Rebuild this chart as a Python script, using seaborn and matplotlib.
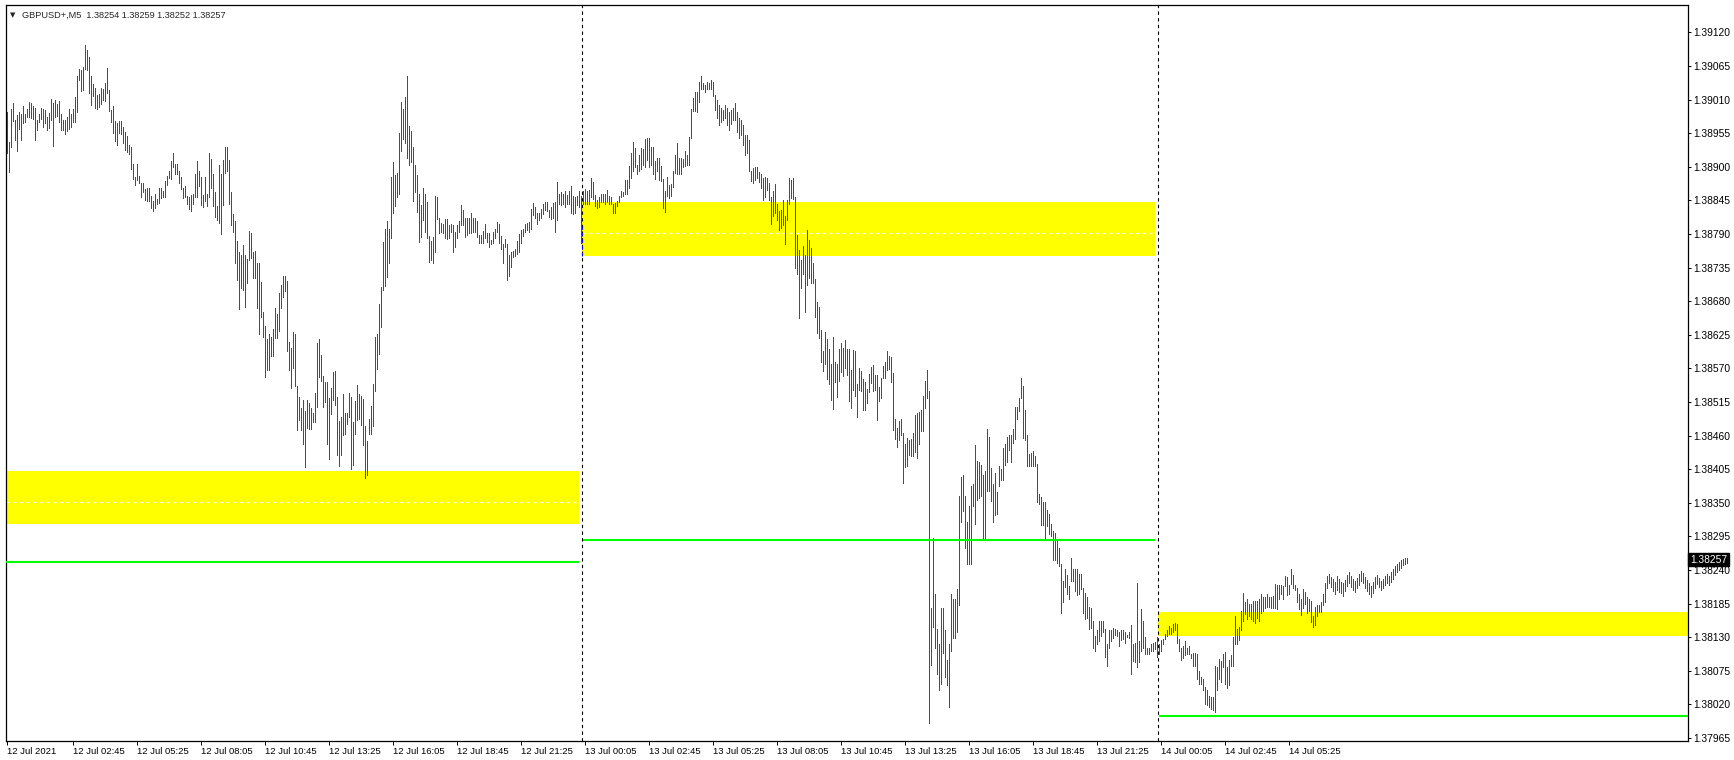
import numpy as np
import pandas as pd
import matplotlib
matplotlib.use("Agg")
import matplotlib.pyplot as plt
import matplotlib.transforms as mtransforms
import seaborn as sns

# header of the MT4 window
symbol = "GBPUSD+,M5"
last_ohlc = [1.38254, 1.38259, 1.38252, 1.38257]

# M5 bars, high / low per bar (12 Jul, 13 Jul, 14 Jul)
day1_high = [
    1.38990, 1.38941, 1.38995, 1.39004, 1.38977, 1.38985, 1.38990, 1.38986, 1.38999, 1.38987,
    1.38995, 1.39007, 1.39004, 1.38999, 1.38996, 1.38977, 1.38986, 1.38996, 1.38995, 1.38993,
    1.38981, 1.38988, 1.39011, 1.39005, 1.39009, 1.39003, 1.39008, 1.38986, 1.38977, 1.38977,
    1.38981, 1.38995, 1.38986, 1.38995, 1.39014, 1.39049, 1.39060, 1.39058, 1.39063, 1.39099,
    1.39091, 1.39080, 1.39048, 1.39036, 1.39029, 1.39017, 1.39019, 1.39029, 1.39027, 1.39038,
    1.39062, 1.39026, 1.38993, 1.38999, 1.38975, 1.38971, 1.38975, 1.38975, 1.38965, 1.38957,
    1.38950, 1.38936, 1.38932, 1.38904, 1.38884, 1.38904, 1.38885, 1.38873, 1.38873, 1.38864,
    1.38865, 1.38865, 1.38853, 1.38844, 1.38855, 1.38847, 1.38865, 1.38865, 1.38861, 1.38877,
    1.38885, 1.38894, 1.38910, 1.38923, 1.38904, 1.38904, 1.38894, 1.38884, 1.38865, 1.38869,
    1.38853, 1.38850, 1.38854, 1.38855, 1.38888, 1.38910, 1.38894, 1.38884, 1.38854, 1.38884,
    1.38855, 1.38923, 1.38913, 1.38888, 1.38859, 1.38836, 1.38903, 1.38888, 1.38912, 1.38932,
    1.38932, 1.38912, 1.38859, 1.38823, 1.38811, 1.38779, 1.38761, 1.38755, 1.38772, 1.38755,
    1.38749, 1.38795, 1.38792, 1.38761, 1.38762, 1.38742, 1.38742, 1.38712, 1.38663, 1.38640,
    1.38618, 1.38626, 1.38622, 1.38634, 1.38669, 1.38659, 1.38693, 1.38706, 1.38721, 1.38721,
    1.38713, 1.38614, 1.38604, 1.38630, 1.38626, 1.38541, 1.38523, 1.38505, 1.38519, 1.38501,
    1.38519, 1.38513, 1.38505, 1.38497, 1.38530, 1.38611, 1.38618, 1.38592, 1.38558, 1.38547,
    1.38548, 1.38522, 1.38538, 1.38564, 1.38566, 1.38523, 1.38484, 1.38491, 1.38528, 1.38497,
    1.38497, 1.38529, 1.38523, 1.38482, 1.38517, 1.38543, 1.38528, 1.38525, 1.38520, 1.38475,
    1.38451, 1.38487, 1.38508, 1.38545, 1.38622, 1.38627, 1.38676, 1.38704, 1.38777, 1.38798,
    1.38811, 1.38798, 1.38884, 1.38908, 1.38887, 1.38890, 1.38956, 1.39007, 1.38995, 1.39015,
    1.39048, 1.38967, 1.38959, 1.38933, 1.38903, 1.38887, 1.38856, 1.38838, 1.38866, 1.38855,
    1.38842, 1.38787, 1.38779, 1.38785, 1.38853, 1.38851, 1.38817, 1.38808, 1.38807, 1.38814,
    1.38814, 1.38805, 1.38806, 1.38805, 1.38794, 1.38805, 1.38811, 1.38837, 1.38829, 1.38817,
    1.38817, 1.38817, 1.38825, 1.38817, 1.38817, 1.38811, 1.38788, 1.38788, 1.38795, 1.38806,
    1.38791, 1.38792, 1.38781, 1.38794, 1.38798, 1.38809, 1.38807, 1.38787, 1.38773, 1.38782,
    1.38773, 1.38755, 1.38761, 1.38762, 1.38765, 1.38778, 1.38790, 1.38796, 1.38798, 1.38807,
    1.38808, 1.38809, 1.38831, 1.38841, 1.38834, 1.38825, 1.38824, 1.38831, 1.38839, 1.38842,
    1.38843, 1.38829, 1.38835, 1.38841, 1.38843, 1.38875, 1.38855, 1.38859, 1.38856, 1.38861,
    1.38854, 1.38860, 1.38869, 1.38853, 1.38851, 1.38853, 1.38860, 1.38852,
]
day1_low = [
    1.38922, 1.38892, 1.38932, 1.38975, 1.38944, 1.38926, 1.38962, 1.38944, 1.38972, 1.38974,
    1.38981, 1.38982, 1.38980, 1.38978, 1.38944, 1.38961, 1.38973, 1.38978, 1.38966, 1.38971,
    1.38960, 1.38963, 1.38977, 1.38934, 1.38981, 1.38984, 1.38974, 1.38960, 1.38960, 1.38954,
    1.38959, 1.38962, 1.38966, 1.38973, 1.38974, 1.38989, 1.39042, 1.39025, 1.39026, 1.39060,
    1.39058, 1.39021, 1.39001, 1.39016, 1.38997, 1.38995, 1.38998, 1.39003, 1.39009, 1.39008,
    1.39021, 1.38992, 1.38974, 1.38956, 1.38943, 1.38936, 1.38955, 1.38954, 1.38939, 1.38927,
    1.38924, 1.38921, 1.38896, 1.38880, 1.38870, 1.38878, 1.38873, 1.38851, 1.38859, 1.38845,
    1.38844, 1.38844, 1.38832, 1.38828, 1.38832, 1.38840, 1.38841, 1.38849, 1.38850, 1.38851,
    1.38870, 1.38881, 1.38880, 1.38899, 1.38888, 1.38889, 1.38873, 1.38864, 1.38849, 1.38850,
    1.38839, 1.38831, 1.38828, 1.38839, 1.38850, 1.38851, 1.38869, 1.38837, 1.38834, 1.38844,
    1.38836, 1.38850, 1.38865, 1.38836, 1.38818, 1.38813, 1.38808, 1.38790, 1.38837, 1.38890,
    1.38894, 1.38840, 1.38804, 1.38794, 1.38742, 1.38715, 1.38667, 1.38702, 1.38699, 1.38671,
    1.38710, 1.38747, 1.38750, 1.38718, 1.38718, 1.38669, 1.38626, 1.38654, 1.38621, 1.38556,
    1.38568, 1.38568, 1.38590, 1.38590, 1.38619, 1.38619, 1.38632, 1.38669, 1.38687, 1.38697,
    1.38599, 1.38567, 1.38538, 1.38571, 1.38541, 1.38469, 1.38486, 1.38469, 1.38447, 1.38408,
    1.38473, 1.38470, 1.38470, 1.38482, 1.38482, 1.38507, 1.38556, 1.38549, 1.38507, 1.38515,
    1.38447, 1.38422, 1.38496, 1.38518, 1.38510, 1.38428, 1.38410, 1.38428, 1.38461, 1.38462,
    1.38479, 1.38491, 1.38405, 1.38412, 1.38463, 1.38485, 1.38488, 1.38477, 1.38444, 1.38390,
    1.38395, 1.38462, 1.38463, 1.38475, 1.38533, 1.38569, 1.38594, 1.38638, 1.38699, 1.38705,
    1.38720, 1.38742, 1.38784, 1.38825, 1.38836, 1.38850, 1.38855, 1.38926, 1.38945, 1.38939,
    1.38914, 1.38903, 1.38908, 1.38844, 1.38859, 1.38826, 1.38777, 1.38785, 1.38813, 1.38794,
    1.38783, 1.38744, 1.38747, 1.38743, 1.38761, 1.38815, 1.38791, 1.38793, 1.38791, 1.38783,
    1.38782, 1.38784, 1.38794, 1.38761, 1.38768, 1.38783, 1.38794, 1.38805, 1.38805, 1.38785,
    1.38788, 1.38791, 1.38791, 1.38793, 1.38794, 1.38785, 1.38775, 1.38775, 1.38776, 1.38783,
    1.38777, 1.38769, 1.38773, 1.38775, 1.38784, 1.38794, 1.38775, 1.38765, 1.38743, 1.38768,
    1.38715, 1.38721, 1.38736, 1.38753, 1.38754, 1.38757, 1.38761, 1.38775, 1.38787, 1.38794,
    1.38796, 1.38794, 1.38798, 1.38821, 1.38817, 1.38807, 1.38813, 1.38817, 1.38823, 1.38830,
    1.38828, 1.38818, 1.38814, 1.38817, 1.38794, 1.38813, 1.38840, 1.38837, 1.38840, 1.38835,
    1.38839, 1.38839, 1.38825, 1.38823, 1.38824, 1.38838, 1.38834, 1.38776,
]
day2_high = [
    1.38860, 1.38864, 1.38860, 1.38862, 1.38881, 1.38876, 1.38854, 1.38846, 1.38851, 1.38855,
    1.38856, 1.38856, 1.38862, 1.38852, 1.38850, 1.38839, 1.38841, 1.38844, 1.38853, 1.38860,
    1.38859, 1.38879, 1.38878, 1.38901, 1.38922, 1.38940, 1.38931, 1.38903, 1.38920, 1.38931,
    1.38930, 1.38945, 1.38947, 1.38948, 1.38932, 1.38932, 1.38909, 1.38914, 1.38915, 1.38901,
    1.38880, 1.38860, 1.38884, 1.38871, 1.38872, 1.38893, 1.38920, 1.38939, 1.38914, 1.38914,
    1.38913, 1.38926, 1.38920, 1.38949, 1.38994, 1.39012, 1.39022, 1.39023, 1.39039, 1.39048,
    1.39038, 1.39034, 1.39039, 1.39038, 1.39043, 1.39039, 1.39017, 1.39009, 1.39001, 1.38996,
    1.38993, 1.39001, 1.38996, 1.38990, 1.38993, 1.38996, 1.39004, 1.38990, 1.38980, 1.38976,
    1.38968, 1.38952, 1.38952, 1.38944, 1.38893, 1.38898, 1.38899, 1.38899, 1.38892, 1.38889,
    1.38881, 1.38883, 1.38881, 1.38873, 1.38850, 1.38860, 1.38872, 1.38839, 1.38828, 1.38830,
    1.38845, 1.38820, 1.38845, 1.38882, 1.38878, 1.38882, 1.38850, 1.38788, 1.38764, 1.38748,
    1.38770, 1.38756, 1.38797, 1.38781, 1.38767, 1.38742, 1.38716, 1.38679, 1.38670, 1.38633,
    1.38598, 1.38630, 1.38618, 1.38601, 1.38577, 1.38621, 1.38581, 1.38577, 1.38601, 1.38611,
    1.38604, 1.38616, 1.38601, 1.38601, 1.38567, 1.38600, 1.38598, 1.38544, 1.38571, 1.38565,
    1.38552, 1.38547, 1.38536, 1.38561, 1.38572, 1.38576, 1.38559, 1.38559, 1.38539, 1.38555,
    1.38574, 1.38581, 1.38599, 1.38590, 1.38589, 1.38562, 1.38487, 1.38472, 1.38484, 1.38487,
    1.38465, 1.38447, 1.38456, 1.38453, 1.38455, 1.38465, 1.38494, 1.38497, 1.38498, 1.38502,
    1.38525, 1.38550, 1.38567, 1.38533, 1.38178, 1.38293, 1.38201, 1.38144, 1.38119, 1.38178,
    1.38178, 1.38142, 1.38093, 1.38119, 1.38201, 1.38193, 1.38193, 1.38209, 1.38361, 1.38393,
    1.38396, 1.38361, 1.38318, 1.38344, 1.38377, 1.38381, 1.38445, 1.38419, 1.38416, 1.38412,
    1.38395, 1.38402, 1.38470, 1.38458, 1.38407, 1.38380, 1.38399, 1.38367, 1.38411, 1.38406,
    1.38439, 1.38447, 1.38458, 1.38461, 1.38461, 1.38470, 1.38507, 1.38507, 1.38521, 1.38555,
    1.38542, 1.38502, 1.38461, 1.38430, 1.38432, 1.38435, 1.38427, 1.38413, 1.38364, 1.38360,
    1.38352, 1.38352, 1.38338, 1.38332, 1.38315, 1.38304, 1.38300, 1.38291, 1.38276, 1.38250,
    1.38222, 1.38242, 1.38232, 1.38213, 1.38260, 1.38242, 1.38242, 1.38242, 1.38233, 1.38233,
    1.38211, 1.38203, 1.38195, 1.38179, 1.38178, 1.38156, 1.38132, 1.38142, 1.38156, 1.38156,
    1.38156, 1.38144, 1.38119, 1.38141, 1.38141, 1.38145, 1.38144, 1.38142, 1.38139, 1.38141,
    1.38142, 1.38139, 1.38134, 1.38138, 1.38150, 1.38118, 1.38121, 1.38218, 1.38124, 1.38176,
    1.38156, 1.38131, 1.38112, 1.38112, 1.38119, 1.38121, 1.38122, 1.38131,
]
day2_low = [
    1.38840, 1.38840, 1.38839, 1.38839, 1.38851, 1.38847, 1.38836, 1.38833, 1.38834, 1.38842,
    1.38842, 1.38840, 1.38843, 1.38840, 1.38839, 1.38824, 1.38824, 1.38836, 1.38843, 1.38850,
    1.38852, 1.38856, 1.38856, 1.38866, 1.38881, 1.38893, 1.38899, 1.38888, 1.38893, 1.38896,
    1.38903, 1.38899, 1.38912, 1.38899, 1.38903, 1.38889, 1.38880, 1.38894, 1.38879, 1.38877,
    1.38832, 1.38826, 1.38853, 1.38849, 1.38853, 1.38867, 1.38890, 1.38889, 1.38889, 1.38888,
    1.38900, 1.38901, 1.38903, 1.38903, 1.38948, 1.38991, 1.38992, 1.38990, 1.39007, 1.39028,
    1.39028, 1.39022, 1.39027, 1.39027, 1.39027, 1.39016, 1.38993, 1.38980, 1.38968, 1.38973,
    1.38976, 1.38980, 1.38968, 1.38960, 1.38970, 1.38976, 1.38976, 1.38957, 1.38947, 1.38952,
    1.38935, 1.38919, 1.38922, 1.38893, 1.38877, 1.38873, 1.38878, 1.38881, 1.38875, 1.38865,
    1.38846, 1.38850, 1.38862, 1.38846, 1.38806, 1.38819, 1.38825, 1.38813, 1.38797, 1.38800,
    1.38804, 1.38773, 1.38813, 1.38839, 1.38849, 1.38847, 1.38734, 1.38724, 1.38653, 1.38702,
    1.38724, 1.38662, 1.38707, 1.38718, 1.38710, 1.38710, 1.38654, 1.38628, 1.38619, 1.38581,
    1.38566, 1.38577, 1.38553, 1.38544, 1.38518, 1.38504, 1.38547, 1.38524, 1.38550, 1.38564,
    1.38558, 1.38570, 1.38559, 1.38516, 1.38505, 1.38535, 1.38525, 1.38490, 1.38535, 1.38533,
    1.38502, 1.38502, 1.38514, 1.38532, 1.38546, 1.38533, 1.38535, 1.38486, 1.38517, 1.38521,
    1.38554, 1.38555, 1.38567, 1.38569, 1.38547, 1.38469, 1.38454, 1.38441, 1.38452, 1.38461,
    1.38382, 1.38409, 1.38410, 1.38429, 1.38427, 1.38427, 1.38433, 1.38424, 1.38447, 1.38467,
    1.38467, 1.38506, 1.38522, 1.37989, 1.38085, 1.38147, 1.38113, 1.38070, 1.38043, 1.38054,
    1.38104, 1.38064, 1.38052, 1.38015, 1.38107, 1.38129, 1.38129, 1.38139, 1.38182, 1.38319,
    1.38337, 1.38276, 1.38249, 1.38250, 1.38250, 1.38344, 1.38316, 1.38355, 1.38358, 1.38361,
    1.38292, 1.38289, 1.38370, 1.38370, 1.38353, 1.38318, 1.38330, 1.38331, 1.38378, 1.38387,
    1.38387, 1.38412, 1.38416, 1.38436, 1.38417, 1.38448, 1.38454, 1.38488, 1.38501, 1.38521,
    1.38456, 1.38453, 1.38411, 1.38411, 1.38411, 1.38411, 1.38410, 1.38352, 1.38348, 1.38313,
    1.38313, 1.38290, 1.38312, 1.38299, 1.38296, 1.38257, 1.38256, 1.38251, 1.38247, 1.38169,
    1.38187, 1.38212, 1.38200, 1.38192, 1.38222, 1.38222, 1.38206, 1.38199, 1.38200, 1.38209,
    1.38169, 1.38159, 1.38161, 1.38144, 1.38145, 1.38113, 1.38108, 1.38118, 1.38124, 1.38132,
    1.38139, 1.38097, 1.38082, 1.38112, 1.38124, 1.38128, 1.38133, 1.38132, 1.38115, 1.38125,
    1.38127, 1.38120, 1.38130, 1.38128, 1.38070, 1.38091, 1.38089, 1.38081, 1.38089, 1.38107,
    1.38113, 1.38102, 1.38102, 1.38102, 1.38107, 1.38107, 1.38110, 1.38097,
]
day3_high = [
    1.38119, 1.38125, 1.38127, 1.38136, 1.38142, 1.38149, 1.38145, 1.38152, 1.38153, 1.38152,
    1.38127, 1.38113, 1.38115, 1.38124, 1.38113, 1.38115, 1.38102, 1.38104, 1.38104, 1.38102,
    1.38075, 1.38065, 1.38062, 1.38049, 1.38044, 1.38033, 1.38032, 1.38032, 1.38083, 1.38081,
    1.38094, 1.38091, 1.38102, 1.38105, 1.38081, 1.38093, 1.38101, 1.38130, 1.38165, 1.38144,
    1.38147, 1.38173, 1.38203, 1.38188, 1.38192, 1.38185, 1.38185, 1.38190, 1.38190, 1.38190,
    1.38192, 1.38201, 1.38195, 1.38195, 1.38201, 1.38195, 1.38196, 1.38198, 1.38217, 1.38216,
    1.38216, 1.38216, 1.38214, 1.38230, 1.38229, 1.38216, 1.38241, 1.38232, 1.38215, 1.38211,
    1.38200, 1.38192, 1.38209, 1.38204, 1.38195, 1.38193, 1.38190, 1.38165, 1.38179, 1.38182,
    1.38182, 1.38188, 1.38201, 1.38218, 1.38230, 1.38233, 1.38228, 1.38225, 1.38220, 1.38230,
    1.38226, 1.38221, 1.38218, 1.38224, 1.38232, 1.38236, 1.38230, 1.38226, 1.38222, 1.38227,
    1.38233, 1.38238, 1.38235, 1.38229, 1.38224, 1.38218, 1.38214, 1.38220, 1.38228, 1.38232,
    1.38227, 1.38222, 1.38226, 1.38230, 1.38233, 1.38230, 1.38236, 1.38242, 1.38246, 1.38250,
    1.38253, 1.38256, 1.38258, 1.38259, 1.38259,
]
day3_low = [
    1.38102, 1.38107, 1.38118, 1.38127, 1.38132, 1.38136, 1.38136, 1.38139, 1.38142, 1.38121,
    1.38108, 1.38093, 1.38096, 1.38101, 1.38102, 1.38102, 1.38096, 1.38083, 1.38083, 1.38061,
    1.38054, 1.38053, 1.38044, 1.38021, 1.38019, 1.38016, 1.38013, 1.38010, 1.38008, 1.38044,
    1.38062, 1.38056, 1.38081, 1.38054, 1.38047, 1.38051, 1.38083, 1.38083, 1.38118, 1.38119,
    1.38125, 1.38141, 1.38156, 1.38168, 1.38159, 1.38164, 1.38160, 1.38156, 1.38153, 1.38161,
    1.38156, 1.38170, 1.38173, 1.38177, 1.38180, 1.38179, 1.38178, 1.38177, 1.38177, 1.38176,
    1.38192, 1.38201, 1.38192, 1.38213, 1.38199, 1.38200, 1.38217, 1.38210, 1.38208, 1.38188,
    1.38176, 1.38167, 1.38177, 1.38185, 1.38169, 1.38173, 1.38155, 1.38147, 1.38150, 1.38164,
    1.38171, 1.38171, 1.38182, 1.38187, 1.38210, 1.38218, 1.38212, 1.38205, 1.38200, 1.38207,
    1.38204, 1.38203, 1.38198, 1.38206, 1.38214, 1.38219, 1.38212, 1.38208, 1.38204, 1.38210,
    1.38216, 1.38222, 1.38218, 1.38211, 1.38205, 1.38200, 1.38196, 1.38203, 1.38210, 1.38217,
    1.38212, 1.38207, 1.38210, 1.38215, 1.38219, 1.38216, 1.38220, 1.38226, 1.38232, 1.38236,
    1.38240, 1.38244, 1.38248, 1.38250, 1.38252,
]

# drawn levels, one per day
zone_top = [1.38402, 1.38843, 1.38172]
zone_bottom = [1.38315, 1.38754, 1.38132]
zone_mid = [1.38351, 1.38791, None]
green_level = [1.38253, 1.38289, 1.38001]

x_tick_labels = ["12 Jul 2021", "12 Jul 02:45", "12 Jul 05:25", "12 Jul 08:05", "12 Jul 10:45",
                 "12 Jul 13:25", "12 Jul 16:05", "12 Jul 18:45", "12 Jul 21:25",
                 "13 Jul 00:05", "13 Jul 02:45", "13 Jul 05:25", "13 Jul 08:05", "13 Jul 10:45",
                 "13 Jul 13:25", "13 Jul 16:05", "13 Jul 18:45", "13 Jul 21:25",
                 "14 Jul 00:05", "14 Jul 02:45", "14 Jul 05:25"]
y_ticks = [1.37965, 1.38020, 1.38075, 1.38130, 1.38185, 1.38240, 1.38295, 1.38350,
           1.38405, 1.38460, 1.38515, 1.38570, 1.38625, 1.38680, 1.38735, 1.38790,
           1.38845, 1.38900, 1.38955, 1.39010, 1.39065, 1.39120]

BARS_PER_DAY = 288


def bar_index(label):
    # position of a time label in bars (5 min each) from 12 Jul 00:00
    d, _, t = label.split()
    day = int(d) - 12
    if ":" not in t:
        return day * BARS_PER_DAY
    hh, mm = map(int, t.split(":"))
    return day * BARS_PER_DAY + (hh * 60 + mm) // 5


highs = day1_high + day2_high + day3_high
lows = day1_low + day2_low + day3_low
df = pd.DataFrame({"bar": np.arange(len(highs)), "high": highs, "low": lows})

sns.set_style("white")
plt.rcParams["font.family"] = ["Liberation Sans", "DejaVu Sans"]
plt.rcParams["font.size"] = 6.8

fig = plt.figure(figsize=(17.34, 7.6), dpi=100)
ax = fig.add_axes([6 / 1734, 19 / 760, 1682 / 1734, 736 / 760])

x_min, x_max = -0.5, 840.5
ax.set_xlim(x_min, x_max)
ax.set_ylim(1.37960, 1.39165)

# yellow zones + green lines, one set per day
day_starts = [0, BARS_PER_DAY, 2 * BARS_PER_DAY]
for k, s in enumerate(day_starts):
    x0 = s - 0.5
    x1 = s + 286 if k < 2 else x_max
    ax.fill_between([x0, x1], zone_bottom[k], zone_top[k], color="#ffff00", lw=0, zorder=1)
    if zone_mid[k] is not None:
        ax.hlines(zone_mid[k], x0, x1, colors="white", lw=0.8,
                  linestyles=(0, (3, 3)), zorder=1.5)
    ax.hlines(green_level[k], x0 + (0.5 if k else 0), x1, colors="#00ff00", lw=1.5, zorder=3)

# bars
ax.vlines(df["bar"], df["low"], df["high"], colors="#ff0000", lw=0.5,
          antialiased=False, zorder=2)

# day separators
for s in day_starts[1:]:
    ax.axvline(s - 0.5, color="black", lw=0.8, ls=(0, (3, 3)), zorder=4)
ax.vlines(day_starts[1] - 0.5, zone_bottom[1], 1.38808, colors="blue", lw=0.8,
          linestyles=(0, (3, 3)), zorder=4.5)

# axes look
for sp in ax.spines.values():
    sp.set_color("black")
    sp.set_linewidth(0.9)
ax.yaxis.tick_right()
ax.set_yticks(y_ticks, [f"{v:.5f}" for v in y_ticks])
ax.set_xticks([bar_index(l) for l in x_tick_labels], x_tick_labels, ha="left")
ax.tick_params(axis="y", direction="out", length=2.5, width=0.7, pad=1.5,
               labelsize=7.4, colors="black", right=True, left=False)
ax.tick_params(axis="x", direction="out", length=3, width=0.7, pad=1,
               labelsize=6.8, colors="black", bottom=True)
ax.grid(False)

# last price marker on the price axis
trans = mtransforms.blended_transform_factory(ax.transAxes, ax.transData)
ax.text(1.0012, last_ohlc[3], f"{last_ohlc[3]:.5f}", transform=trans, color="white",
        fontsize=7.4, va="center", ha="left", clip_on=False, zorder=10,
        bbox=dict(boxstyle="square,pad=0.15", fc="black", ec="black"))

# header
fig.text(10 / 1734, 1 - 15 / 760, "\u25bc", fontsize=5, va="center", ha="left",
         family=["DejaVu Sans"])
fig.text(22 / 1734, 1 - 15 / 760,
         f"{symbol}  " + " ".join(f"{v:.5f}" for v in last_ohlc),
         fontsize=6.6, va="center", ha="left")

fig.savefig("out.png", dpi=100, facecolor="white")
